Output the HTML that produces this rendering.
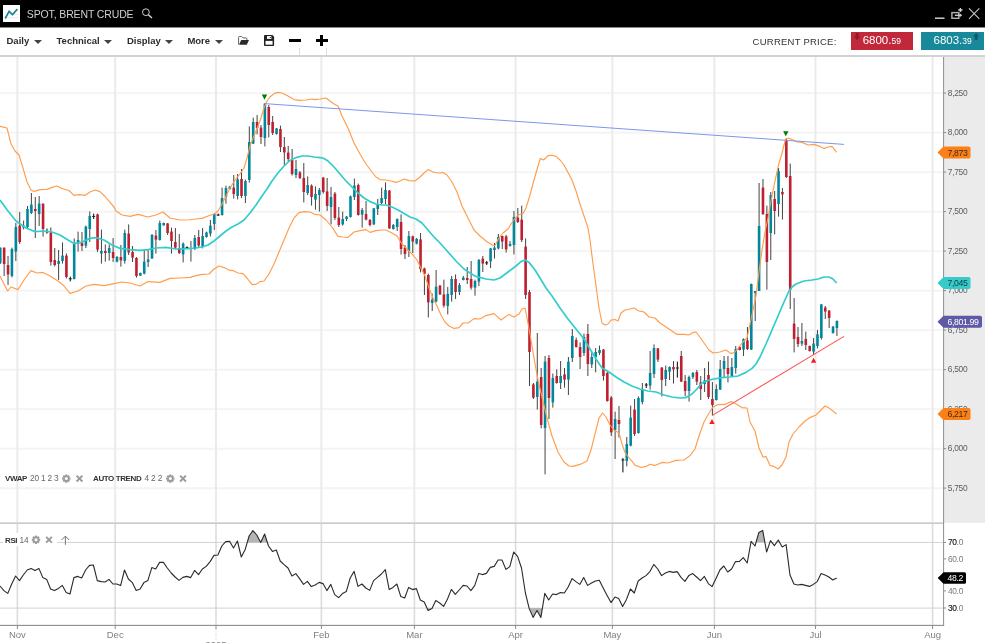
<!DOCTYPE html>
<html><head><meta charset="utf-8"><title>Spot, Brent Crude</title>
<style>
html,body{margin:0;padding:0;background:#fff;}
body{width:985px;height:643px;overflow:hidden;position:relative;font-family:"Liberation Sans",sans-serif;}
#hdr{position:absolute;left:0;top:0;width:985px;height:27px;background:#000;}
#ico{position:absolute;left:3px;top:5.2px;width:17px;height:16.7px;background:#fff;}
#ttl{position:absolute;left:26.8px;top:7.1px;font-size:10.5px;line-height:14px;color:#cfcfcf;letter-spacing:-0.13px;white-space:nowrap;}
#tb{position:absolute;left:0;top:27px;width:985px;height:28px;background:#fff;border-bottom:2px solid #d2d2d2;}
.mi{position:absolute;top:6.5px;font-size:9.5px;line-height:13px;font-weight:bold;color:#2c2c2c;white-space:nowrap;}
.car{position:absolute;top:12.8px;width:0;height:0;border-left:4.3px solid transparent;border-right:4.3px solid transparent;border-top:4.3px solid #444;}
#cp{position:absolute;left:752.6px;top:7.5px;font-size:9.5px;line-height:14px;color:#333;letter-spacing:0.24px;white-space:nowrap;}
.pb{position:absolute;top:5px;height:17.5px;color:#fff;font-size:11.5px;line-height:17.5px;white-space:nowrap;}
.pb small{font-size:8.5px;}
svg text{font-family:"Liberation Sans",sans-serif;}
.ax{font-size:8.4px;fill:#5e5e5e;letter-spacing:-0.3px;}
.bd{font-size:8.7px;letter-spacing:-0.36px;}
.lg{font-size:8.3px;fill:#666;letter-spacing:-0.2px;}
.lgb{font-size:8px;font-weight:bold;fill:#333;letter-spacing:-0.4px;}
.mo{font-size:9.5px;fill:#808080;}
</style></head><body>
<div id="hdr">
 <div id="ico"><svg width="17" height="17" viewBox="0 0 17 17"><path d="M2,9.3h13M2,12.8h13" stroke="#ddd" stroke-width="0.6"/><path d="M2.2,13.5 L6.1,6.4 L9.5,9.6 L14.4,4.1" fill="none" stroke="#0e8592" stroke-width="1.6"/></svg></div>
 <div id="ttl">SPOT, BRENT CRUDE</div>
 <svg style="position:absolute;left:141px;top:8px" width="13" height="12" viewBox="0 0 13 12"><circle cx="4.9" cy="4.2" r="3.4" fill="none" stroke="#d0d0d0" stroke-width="1"/><path d="M7.3,6.8 L11,10" stroke="#d8d8d8" stroke-width="1.4"/></svg>
 <svg style="position:absolute;left:933px;top:6px" width="50" height="16" viewBox="0 0 50 16"><path d="M2,12.2h9.5" stroke="#cdcdcd" stroke-width="1.5"/><rect x="18.9" y="6.6" width="6.9" height="5.7" fill="none" stroke="#b4b4b4" stroke-width="1.4"/><path d="M21.9,9.3h5.4" stroke="#d0d0d0" stroke-width="1.3"/><path d="M26.6,7.3l2.6,2l-2.6,2z" fill="#d0d0d0"/><path d="M27.4,1.9v4.2M25.3,4h4.2" stroke="#d0d0d0" stroke-width="1.4"/><path d="M36,2.3l10.3,10.6M46.3,2.3l-10.3,10.6" stroke="#c6c6c6" stroke-width="1.1"/></svg>
</div>
<div style="position:absolute;left:0;top:27px;width:985px;height:1px;background:#8a8a8a;z-index:3"></div>
<div id="tb">
 <span class="mi" style="left:6.5px">Daily</span><span class="car" style="left:33.7px"></span>
 <span class="mi" style="left:56.5px">Technical</span><span class="car" style="left:104.2px"></span>
 <span class="mi" style="left:127px">Display</span><span class="car" style="left:164.6px"></span>
 <span class="mi" style="left:187.4px">More</span><span class="car" style="left:214.6px"></span>
 <div style="position:absolute;left:289px;top:11.7px;width:12px;height:3.3px;background:#000"></div>
 <div style="position:absolute;left:315.8px;top:11.7px;width:12px;height:3.3px;background:#000"></div>
 <div style="position:absolute;left:320.1px;top:7.5px;width:3.2px;height:11.7px;background:#000"></div>
 <div style="position:absolute;left:299.3px;top:21px;width:1.2px;height:7px;background:#dcdcdc"></div>
 <div style="position:absolute;left:326.2px;top:21px;width:1.2px;height:7px;background:#dcdcdc"></div>
 <div id="cp">CURRENT PRICE:</div>
 <div class="pb" style="left:850.5px;width:62.7px;background:#c1283a"><svg style="position:absolute;left:3.6px;top:1px" width="6.3" height="7.35" viewBox="0 0 6 7"><path d="M1.6,0h2.8v3.4h1.6l-3,3.4l-3,-3.4h1.6z" fill="#8c1a28"/></svg><span style="position:absolute;left:12.2px">6800.<small>59</small></span></div>
 <div class="pb" style="left:921.2px;width:62.8px;background:#17899a"><span style="position:absolute;left:12.3px">6803.<small>39</small></span><svg style="position:absolute;left:52.3px;top:1px" width="6.3" height="7.35" viewBox="0 0 6 7"><path d="M1.6,6.8h2.8v-3.4h1.6l-3,-3.4l-3,3.4h1.6z" fill="#0e5a66"/></svg></div>
</div>
<svg style="position:absolute;left:0;top:0" width="985" height="643" viewBox="0 0 985 643">
<rect x="0" y="92.2" width="943" height="2" fill="#f4f4f4"/>
<rect x="0" y="131.7" width="943" height="2" fill="#f4f4f4"/>
<rect x="0" y="171.2" width="943" height="2" fill="#f4f4f4"/>
<rect x="0" y="210.7" width="943" height="2" fill="#f4f4f4"/>
<rect x="0" y="250.2" width="943" height="2" fill="#f4f4f4"/>
<rect x="0" y="289.7" width="943" height="2" fill="#f4f4f4"/>
<rect x="0" y="329.2" width="943" height="2" fill="#f4f4f4"/>
<rect x="0" y="368.7" width="943" height="2" fill="#f4f4f4"/>
<rect x="0" y="408.2" width="943" height="2" fill="#f4f4f4"/>
<rect x="0" y="447.7" width="943" height="2" fill="#f4f4f4"/>
<rect x="0" y="487.2" width="943" height="2" fill="#f4f4f4"/>
<rect x="16.35" y="57" width="2" height="465" fill="#ebebeb"/>
<rect x="16.60" y="524" width="1.6" height="101" fill="#dcdcdc"/>
<rect x="114.15" y="57" width="2" height="465" fill="#ebebeb"/>
<rect x="114.40" y="524" width="1.6" height="101" fill="#dcdcdc"/>
<rect x="214.95" y="57" width="2" height="465" fill="#ebebeb"/>
<rect x="215.20" y="524" width="1.6" height="101" fill="#dcdcdc"/>
<rect x="320.35" y="57" width="2" height="465" fill="#ebebeb"/>
<rect x="320.60" y="524" width="1.6" height="101" fill="#dcdcdc"/>
<rect x="413.35" y="57" width="2" height="465" fill="#ebebeb"/>
<rect x="413.60" y="524" width="1.6" height="101" fill="#dcdcdc"/>
<rect x="514.55" y="57" width="2" height="465" fill="#ebebeb"/>
<rect x="514.80" y="524" width="1.6" height="101" fill="#dcdcdc"/>
<rect x="611.35" y="57" width="2" height="465" fill="#ebebeb"/>
<rect x="611.60" y="524" width="1.6" height="101" fill="#dcdcdc"/>
<rect x="713.35" y="57" width="2" height="465" fill="#ebebeb"/>
<rect x="713.60" y="524" width="1.6" height="101" fill="#dcdcdc"/>
<rect x="814.45" y="57" width="2" height="465" fill="#ebebeb"/>
<rect x="814.70" y="524" width="1.6" height="101" fill="#dcdcdc"/>
<rect x="931.55" y="57" width="2" height="465" fill="#ebebeb"/>
<rect x="931.80" y="524" width="1.6" height="101" fill="#dcdcdc"/>
<rect x="944" y="57" width="41" height="465.8" fill="#ebebeb"/>
<rect x="943.05" y="57" width="1.05" height="569" fill="#929292"/>
<rect x="944" y="92.6" width="2" height="1" fill="#8c8c8c"/>
<text x="947.8" y="95.6" class="ax">8,250</text>
<rect x="944" y="132.1" width="2" height="1" fill="#8c8c8c"/>
<text x="947.8" y="135.1" class="ax">8,000</text>
<rect x="944" y="171.6" width="2" height="1" fill="#8c8c8c"/>
<text x="947.8" y="174.6" class="ax">7,750</text>
<rect x="944" y="211.1" width="2" height="1" fill="#8c8c8c"/>
<text x="947.8" y="214.1" class="ax">7,500</text>
<rect x="944" y="250.6" width="2" height="1" fill="#8c8c8c"/>
<text x="947.8" y="253.6" class="ax">7,250</text>
<rect x="944" y="290.1" width="2" height="1" fill="#8c8c8c"/>
<text x="947.8" y="293.1" class="ax">7,000</text>
<rect x="944" y="329.6" width="2" height="1" fill="#8c8c8c"/>
<text x="947.8" y="332.6" class="ax">6,750</text>
<rect x="944" y="369.1" width="2" height="1" fill="#8c8c8c"/>
<text x="947.8" y="372.1" class="ax">6,500</text>
<rect x="944" y="408.6" width="2" height="1" fill="#8c8c8c"/>
<text x="947.8" y="411.6" class="ax">6,250</text>
<rect x="944" y="448.1" width="2" height="1" fill="#8c8c8c"/>
<text x="947.8" y="451.1" class="ax">6,000</text>
<rect x="944" y="487.6" width="2" height="1" fill="#8c8c8c"/>
<text x="947.8" y="490.6" class="ax">5,750</text>
<rect x="-0.25" y="247.6" width="1" height="16.4" fill="#444444"/>
<rect x="-1.05" y="247.6" width="2.6" height="15.4" fill="#00879b"/>
<rect x="3.64" y="247.6" width="1" height="28.4" fill="#444444"/>
<rect x="2.84" y="247.6" width="2.6" height="16.4" fill="#c01f30"/>
<rect x="7.53" y="256.0" width="1" height="29.0" fill="#444444"/>
<rect x="6.73" y="265.0" width="2.6" height="9.4" fill="#c01f30"/>
<rect x="11.42" y="247.6" width="1" height="29.8" fill="#444444"/>
<rect x="10.62" y="249.0" width="2.6" height="27.0" fill="#00879b"/>
<rect x="15.32" y="223.0" width="1" height="38.0" fill="#444444"/>
<rect x="14.52" y="227.0" width="2.6" height="24.6" fill="#00879b"/>
<rect x="19.21" y="212.0" width="1" height="32.0" fill="#444444"/>
<rect x="18.41" y="225.6" width="2.6" height="16.4" fill="#c01f30"/>
<rect x="23.10" y="220.6" width="1" height="8.8" fill="#444444"/>
<rect x="22.30" y="225.6" width="2.6" height="2.0" fill="#00879b"/>
<rect x="26.99" y="206.0" width="1" height="22.0" fill="#444444"/>
<rect x="26.19" y="209.0" width="2.6" height="18.0" fill="#00879b"/>
<rect x="30.88" y="193.0" width="1" height="21.0" fill="#444444"/>
<rect x="30.08" y="204.6" width="2.6" height="8.4" fill="#00879b"/>
<rect x="34.77" y="197.0" width="1" height="41.0" fill="#444444"/>
<rect x="33.97" y="209.0" width="2.6" height="2.0" fill="#c01f30"/>
<rect x="38.66" y="196.0" width="1" height="30.0" fill="#444444"/>
<rect x="37.87" y="203.6" width="2.6" height="10.4" fill="#00879b"/>
<rect x="42.56" y="203.6" width="1" height="33.0" fill="#444444"/>
<rect x="41.76" y="203.6" width="2.6" height="25.4" fill="#c01f30"/>
<rect x="46.40" y="228.6" width="1.1" height="5.0" fill="#1c1c1c"/>
<rect x="45.45" y="231.2" width="3" height="1" fill="#1c1c1c"/>
<rect x="50.34" y="227.4" width="1" height="38.2" fill="#444444"/>
<rect x="49.54" y="232.4" width="2.6" height="29.6" fill="#c01f30"/>
<rect x="54.23" y="248.0" width="1" height="18.4" fill="#444444"/>
<rect x="53.43" y="260.0" width="2.6" height="5.0" fill="#c01f30"/>
<rect x="58.12" y="250.0" width="1" height="30.0" fill="#444444"/>
<rect x="57.32" y="261.0" width="2.6" height="3.0" fill="#00879b"/>
<rect x="62.01" y="242.4" width="1" height="21.2" fill="#444444"/>
<rect x="61.21" y="255.6" width="2.6" height="5.4" fill="#00879b"/>
<rect x="65.91" y="253.4" width="1" height="25.0" fill="#444444"/>
<rect x="65.11" y="255.6" width="2.6" height="21.4" fill="#c01f30"/>
<rect x="69.75" y="276.6" width="1.1" height="4.8" fill="#1c1c1c"/>
<rect x="68.80" y="278.3" width="3" height="1" fill="#1c1c1c"/>
<rect x="73.69" y="238.4" width="1" height="41.0" fill="#444444"/>
<rect x="72.89" y="244.0" width="2.6" height="35.0" fill="#00879b"/>
<rect x="77.58" y="231.6" width="1" height="20.0" fill="#444444"/>
<rect x="76.78" y="240.0" width="2.6" height="3.6" fill="#00879b"/>
<rect x="81.47" y="232.0" width="1" height="19.0" fill="#444444"/>
<rect x="80.67" y="242.6" width="2.6" height="3.4" fill="#c01f30"/>
<rect x="85.36" y="225.6" width="1" height="22.4" fill="#444444"/>
<rect x="84.56" y="226.6" width="2.6" height="19.0" fill="#00879b"/>
<rect x="89.25" y="211.4" width="1" height="30.6" fill="#444444"/>
<rect x="88.45" y="216.0" width="2.6" height="13.0" fill="#00879b"/>
<rect x="93.10" y="213.6" width="1.1" height="5.4" fill="#1c1c1c"/>
<rect x="92.15" y="215.9" width="3" height="1" fill="#1c1c1c"/>
<rect x="97.04" y="213.6" width="1" height="38.4" fill="#444444"/>
<rect x="96.24" y="214.4" width="2.6" height="35.2" fill="#c01f30"/>
<rect x="100.93" y="229.6" width="1" height="34.0" fill="#444444"/>
<rect x="100.13" y="251.0" width="2.6" height="2.6" fill="#00879b"/>
<rect x="104.82" y="244.4" width="1" height="17.2" fill="#444444"/>
<rect x="104.02" y="251.0" width="2.6" height="2.0" fill="#c01f30"/>
<rect x="108.71" y="244.4" width="1" height="16.2" fill="#444444"/>
<rect x="107.91" y="248.0" width="2.6" height="5.0" fill="#00879b"/>
<rect x="112.60" y="238.0" width="1" height="24.0" fill="#444444"/>
<rect x="111.80" y="252.0" width="2.6" height="6.0" fill="#c01f30"/>
<rect x="116.50" y="256.0" width="1" height="6.4" fill="#444444"/>
<rect x="115.70" y="257.0" width="2.6" height="4.6" fill="#00879b"/>
<rect x="120.39" y="245.0" width="1" height="21.6" fill="#444444"/>
<rect x="119.59" y="257.0" width="2.6" height="3.4" fill="#c01f30"/>
<rect x="124.28" y="229.6" width="1" height="34.0" fill="#444444"/>
<rect x="123.48" y="233.0" width="2.6" height="28.0" fill="#00879b"/>
<rect x="128.17" y="224.4" width="1" height="30.6" fill="#444444"/>
<rect x="127.37" y="233.6" width="2.6" height="18.8" fill="#c01f30"/>
<rect x="132.06" y="246.0" width="1" height="16.0" fill="#444444"/>
<rect x="131.26" y="252.0" width="2.6" height="5.6" fill="#c01f30"/>
<rect x="135.95" y="257.0" width="1" height="20.6" fill="#444444"/>
<rect x="135.15" y="258.0" width="2.6" height="18.0" fill="#c01f30"/>
<rect x="139.84" y="272.6" width="1" height="3.4" fill="#444444"/>
<rect x="139.04" y="273.0" width="2.6" height="2.6" fill="#00879b"/>
<rect x="143.74" y="250.0" width="1" height="24.4" fill="#444444"/>
<rect x="142.94" y="261.6" width="2.6" height="12.0" fill="#00879b"/>
<rect x="147.63" y="249.0" width="1" height="18.0" fill="#444444"/>
<rect x="146.83" y="259.4" width="2.6" height="2.6" fill="#00879b"/>
<rect x="151.52" y="234.0" width="1" height="25.0" fill="#444444"/>
<rect x="150.72" y="235.0" width="2.6" height="23.4" fill="#00879b"/>
<rect x="155.41" y="230.0" width="1" height="23.6" fill="#444444"/>
<rect x="154.61" y="235.6" width="2.6" height="4.0" fill="#c01f30"/>
<rect x="159.30" y="220.6" width="1" height="20.0" fill="#444444"/>
<rect x="158.50" y="223.0" width="2.6" height="17.0" fill="#00879b"/>
<rect x="163.19" y="222.6" width="1" height="3.0" fill="#444444"/>
<rect x="162.39" y="223.0" width="2.6" height="2.4" fill="#00879b"/>
<rect x="167.08" y="223.0" width="1" height="12.0" fill="#444444"/>
<rect x="166.28" y="223.4" width="2.6" height="9.6" fill="#c01f30"/>
<rect x="170.98" y="227.6" width="1" height="26.0" fill="#444444"/>
<rect x="170.18" y="231.6" width="2.6" height="9.4" fill="#c01f30"/>
<rect x="174.87" y="228.0" width="1" height="21.0" fill="#444444"/>
<rect x="174.07" y="242.0" width="2.6" height="5.6" fill="#c01f30"/>
<rect x="178.76" y="234.0" width="1" height="20.0" fill="#444444"/>
<rect x="177.96" y="248.0" width="2.6" height="5.0" fill="#c01f30"/>
<rect x="182.65" y="242.4" width="1" height="20.0" fill="#444444"/>
<rect x="181.85" y="243.6" width="2.6" height="10.8" fill="#00879b"/>
<rect x="186.49" y="246.4" width="1.1" height="2.6" fill="#1c1c1c"/>
<rect x="185.54" y="247.2" width="3" height="1" fill="#1c1c1c"/>
<rect x="190.43" y="241.0" width="1" height="20.6" fill="#444444"/>
<rect x="189.63" y="248.0" width="2.6" height="1.0" fill="#00879b"/>
<rect x="194.33" y="235.0" width="1" height="15.0" fill="#444444"/>
<rect x="193.53" y="238.0" width="2.6" height="11.0" fill="#00879b"/>
<rect x="198.22" y="230.0" width="1" height="17.0" fill="#444444"/>
<rect x="197.42" y="237.0" width="2.6" height="8.6" fill="#c01f30"/>
<rect x="202.11" y="228.0" width="1" height="20.4" fill="#444444"/>
<rect x="201.31" y="236.0" width="2.6" height="11.0" fill="#00879b"/>
<rect x="206.00" y="231.6" width="1" height="6.0" fill="#444444"/>
<rect x="205.20" y="232.4" width="2.6" height="4.6" fill="#00879b"/>
<rect x="209.89" y="220.0" width="1" height="16.4" fill="#444444"/>
<rect x="209.09" y="225.6" width="2.6" height="8.0" fill="#00879b"/>
<rect x="213.78" y="213.6" width="1" height="16.4" fill="#444444"/>
<rect x="212.98" y="214.0" width="2.6" height="10.0" fill="#00879b"/>
<rect x="217.62" y="213.6" width="1.1" height="2.4" fill="#1c1c1c"/>
<rect x="216.67" y="214.5" width="3" height="1" fill="#1c1c1c"/>
<rect x="221.57" y="187.6" width="1" height="28.0" fill="#444444"/>
<rect x="220.77" y="198.0" width="2.6" height="17.0" fill="#00879b"/>
<rect x="225.46" y="185.6" width="1" height="18.0" fill="#444444"/>
<rect x="224.66" y="188.0" width="2.6" height="9.0" fill="#00879b"/>
<rect x="229.35" y="186.0" width="1" height="3.6" fill="#444444"/>
<rect x="228.55" y="186.6" width="2.6" height="2.4" fill="#00879b"/>
<rect x="233.24" y="175.0" width="1" height="23.6" fill="#444444"/>
<rect x="232.44" y="187.6" width="2.6" height="6.4" fill="#c01f30"/>
<rect x="237.13" y="174.0" width="1" height="25.4" fill="#444444"/>
<rect x="236.33" y="179.4" width="2.6" height="16.6" fill="#00879b"/>
<rect x="241.02" y="169.0" width="1" height="29.0" fill="#444444"/>
<rect x="240.22" y="179.0" width="2.6" height="17.0" fill="#c01f30"/>
<rect x="244.91" y="179.6" width="1" height="23.4" fill="#444444"/>
<rect x="244.11" y="181.0" width="2.6" height="15.0" fill="#00879b"/>
<rect x="248.81" y="126.4" width="1" height="56.2" fill="#444444"/>
<rect x="248.01" y="142.0" width="2.6" height="38.0" fill="#00879b"/>
<rect x="252.70" y="117.6" width="1" height="26.4" fill="#444444"/>
<rect x="251.90" y="122.0" width="2.6" height="21.6" fill="#00879b"/>
<rect x="256.59" y="115.0" width="1" height="19.4" fill="#444444"/>
<rect x="255.79" y="122.0" width="2.6" height="6.0" fill="#c01f30"/>
<rect x="260.48" y="125.0" width="1" height="19.0" fill="#444444"/>
<rect x="259.68" y="127.6" width="2.6" height="9.4" fill="#c01f30"/>
<rect x="264.37" y="103.0" width="1" height="43.4" fill="#444444"/>
<rect x="263.57" y="103.6" width="2.6" height="34.4" fill="#00879b"/>
<rect x="268.26" y="105.0" width="1" height="32.4" fill="#444444"/>
<rect x="267.46" y="107.0" width="2.6" height="18.0" fill="#c01f30"/>
<rect x="272.16" y="116.0" width="1" height="19.0" fill="#444444"/>
<rect x="271.36" y="122.0" width="2.6" height="11.0" fill="#c01f30"/>
<rect x="276.05" y="128.0" width="1" height="6.6" fill="#444444"/>
<rect x="275.25" y="128.4" width="2.6" height="5.6" fill="#00879b"/>
<rect x="279.94" y="125.6" width="1" height="26.4" fill="#444444"/>
<rect x="279.14" y="129.0" width="2.6" height="18.0" fill="#c01f30"/>
<rect x="283.83" y="137.0" width="1" height="28.0" fill="#444444"/>
<rect x="283.03" y="147.0" width="2.6" height="5.4" fill="#c01f30"/>
<rect x="287.72" y="146.0" width="1" height="15.6" fill="#444444"/>
<rect x="286.92" y="152.6" width="2.6" height="6.4" fill="#c01f30"/>
<rect x="291.61" y="149.0" width="1" height="26.6" fill="#444444"/>
<rect x="290.81" y="160.0" width="2.6" height="14.0" fill="#c01f30"/>
<rect x="295.50" y="160.0" width="1" height="18.0" fill="#444444"/>
<rect x="294.70" y="169.0" width="2.6" height="6.0" fill="#00879b"/>
<rect x="299.40" y="171.0" width="1" height="8.0" fill="#444444"/>
<rect x="298.60" y="172.4" width="2.6" height="5.6" fill="#c01f30"/>
<rect x="303.29" y="163.0" width="1" height="39.4" fill="#444444"/>
<rect x="302.49" y="178.0" width="2.6" height="14.0" fill="#c01f30"/>
<rect x="307.18" y="176.4" width="1" height="18.6" fill="#444444"/>
<rect x="306.38" y="185.0" width="2.6" height="8.0" fill="#00879b"/>
<rect x="311.07" y="184.4" width="1" height="21.2" fill="#444444"/>
<rect x="310.27" y="185.6" width="2.6" height="11.4" fill="#c01f30"/>
<rect x="314.96" y="186.4" width="1" height="23.2" fill="#444444"/>
<rect x="314.16" y="194.0" width="2.6" height="5.6" fill="#00879b"/>
<rect x="318.85" y="188.0" width="1" height="23.6" fill="#444444"/>
<rect x="318.05" y="190.0" width="2.6" height="5.0" fill="#00879b"/>
<rect x="322.74" y="177.0" width="1" height="16.6" fill="#444444"/>
<rect x="321.94" y="177.6" width="2.6" height="14.4" fill="#c01f30"/>
<rect x="326.64" y="178.0" width="1" height="33.0" fill="#444444"/>
<rect x="325.84" y="191.4" width="2.6" height="14.6" fill="#c01f30"/>
<rect x="330.53" y="187.0" width="1" height="37.4" fill="#444444"/>
<rect x="329.73" y="197.0" width="2.6" height="10.0" fill="#00879b"/>
<rect x="334.42" y="192.0" width="1" height="28.0" fill="#444444"/>
<rect x="333.62" y="193.6" width="2.6" height="24.4" fill="#c01f30"/>
<rect x="338.31" y="207.0" width="1" height="20.0" fill="#444444"/>
<rect x="337.51" y="217.6" width="2.6" height="7.4" fill="#c01f30"/>
<rect x="342.20" y="211.6" width="1" height="14.0" fill="#444444"/>
<rect x="341.40" y="219.0" width="2.6" height="5.4" fill="#00879b"/>
<rect x="346.09" y="216.0" width="1" height="5.0" fill="#444444"/>
<rect x="345.29" y="216.6" width="2.6" height="2.4" fill="#00879b"/>
<rect x="349.99" y="195.6" width="1" height="22.0" fill="#444444"/>
<rect x="349.19" y="196.4" width="2.6" height="20.6" fill="#00879b"/>
<rect x="353.88" y="178.6" width="1" height="21.4" fill="#444444"/>
<rect x="353.08" y="185.6" width="2.6" height="11.4" fill="#00879b"/>
<rect x="357.77" y="183.6" width="1" height="32.0" fill="#444444"/>
<rect x="356.97" y="185.0" width="2.6" height="30.0" fill="#c01f30"/>
<rect x="361.66" y="208.0" width="1" height="19.6" fill="#444444"/>
<rect x="360.86" y="210.0" width="2.6" height="4.6" fill="#00879b"/>
<rect x="365.55" y="201.0" width="1" height="19.4" fill="#444444"/>
<rect x="364.75" y="214.0" width="2.6" height="5.6" fill="#c01f30"/>
<rect x="369.44" y="219.0" width="1" height="7.4" fill="#444444"/>
<rect x="368.64" y="220.0" width="2.6" height="5.0" fill="#c01f30"/>
<rect x="373.33" y="208.0" width="1" height="17.0" fill="#444444"/>
<rect x="372.53" y="208.4" width="2.6" height="16.0" fill="#00879b"/>
<rect x="377.23" y="199.0" width="1" height="16.0" fill="#444444"/>
<rect x="376.43" y="204.0" width="2.6" height="5.0" fill="#00879b"/>
<rect x="381.12" y="187.6" width="1" height="16.8" fill="#444444"/>
<rect x="380.32" y="198.0" width="2.6" height="5.0" fill="#00879b"/>
<rect x="385.01" y="182.4" width="1" height="21.6" fill="#444444"/>
<rect x="384.21" y="190.0" width="2.6" height="9.0" fill="#00879b"/>
<rect x="388.90" y="190.0" width="1" height="39.0" fill="#444444"/>
<rect x="388.10" y="190.6" width="2.6" height="37.8" fill="#c01f30"/>
<rect x="392.79" y="224.0" width="1" height="5.6" fill="#444444"/>
<rect x="391.99" y="225.0" width="2.6" height="4.0" fill="#00879b"/>
<rect x="396.68" y="218.4" width="1" height="12.6" fill="#444444"/>
<rect x="395.88" y="219.0" width="2.6" height="8.0" fill="#00879b"/>
<rect x="400.57" y="214.4" width="1" height="40.2" fill="#444444"/>
<rect x="399.77" y="222.0" width="2.6" height="27.0" fill="#c01f30"/>
<rect x="404.47" y="245.0" width="1" height="14.0" fill="#444444"/>
<rect x="403.67" y="247.6" width="2.6" height="6.4" fill="#c01f30"/>
<rect x="408.36" y="231.0" width="1" height="26.0" fill="#444444"/>
<rect x="407.56" y="236.0" width="2.6" height="15.0" fill="#00879b"/>
<rect x="412.25" y="235.6" width="1" height="17.4" fill="#444444"/>
<rect x="411.45" y="236.4" width="2.6" height="5.2" fill="#c01f30"/>
<rect x="416.14" y="238.0" width="1" height="6.4" fill="#444444"/>
<rect x="415.34" y="239.0" width="2.6" height="4.6" fill="#00879b"/>
<rect x="420.03" y="233.0" width="1" height="39.4" fill="#444444"/>
<rect x="419.23" y="239.4" width="2.6" height="29.6" fill="#c01f30"/>
<rect x="423.92" y="267.6" width="1" height="27.4" fill="#444444"/>
<rect x="423.12" y="268.4" width="2.6" height="5.6" fill="#c01f30"/>
<rect x="427.81" y="273.6" width="1" height="43.8" fill="#444444"/>
<rect x="427.01" y="275.0" width="2.6" height="27.4" fill="#c01f30"/>
<rect x="431.71" y="293.6" width="1" height="17.4" fill="#444444"/>
<rect x="430.91" y="299.6" width="2.6" height="3.4" fill="#00879b"/>
<rect x="435.60" y="270.0" width="1" height="32.4" fill="#444444"/>
<rect x="434.80" y="286.6" width="2.6" height="15.0" fill="#00879b"/>
<rect x="439.49" y="285.0" width="1" height="10.0" fill="#444444"/>
<rect x="438.69" y="285.6" width="2.6" height="8.8" fill="#c01f30"/>
<rect x="443.38" y="279.6" width="1" height="28.0" fill="#444444"/>
<rect x="442.58" y="294.4" width="2.6" height="11.2" fill="#c01f30"/>
<rect x="447.27" y="287.0" width="1" height="27.4" fill="#444444"/>
<rect x="446.47" y="294.0" width="2.6" height="12.0" fill="#00879b"/>
<rect x="451.16" y="276.0" width="1" height="25.6" fill="#444444"/>
<rect x="450.36" y="279.0" width="2.6" height="16.0" fill="#00879b"/>
<rect x="455.06" y="274.4" width="1" height="24.6" fill="#444444"/>
<rect x="454.26" y="279.0" width="2.6" height="13.0" fill="#c01f30"/>
<rect x="458.95" y="283.0" width="1" height="12.0" fill="#444444"/>
<rect x="458.15" y="285.0" width="2.6" height="7.0" fill="#00879b"/>
<rect x="462.84" y="276.0" width="1" height="4.4" fill="#444444"/>
<rect x="462.04" y="277.6" width="2.6" height="2.4" fill="#00879b"/>
<rect x="466.73" y="267.0" width="1" height="17.0" fill="#444444"/>
<rect x="465.93" y="278.0" width="2.6" height="2.0" fill="#c01f30"/>
<rect x="470.62" y="261.0" width="1" height="28.6" fill="#444444"/>
<rect x="469.82" y="279.0" width="2.6" height="8.6" fill="#c01f30"/>
<rect x="474.51" y="279.6" width="1" height="16.0" fill="#444444"/>
<rect x="473.71" y="281.0" width="2.6" height="6.6" fill="#00879b"/>
<rect x="478.40" y="259.0" width="1" height="27.0" fill="#444444"/>
<rect x="477.60" y="260.0" width="2.6" height="21.6" fill="#00879b"/>
<rect x="482.30" y="256.0" width="1" height="16.0" fill="#444444"/>
<rect x="481.50" y="258.6" width="2.6" height="5.0" fill="#c01f30"/>
<rect x="486.14" y="261.0" width="1.1" height="4.0" fill="#1c1c1c"/>
<rect x="485.19" y="262.4" width="3" height="1" fill="#1c1c1c"/>
<rect x="490.08" y="248.0" width="1" height="20.0" fill="#444444"/>
<rect x="489.28" y="248.4" width="2.6" height="13.0" fill="#00879b"/>
<rect x="493.97" y="243.0" width="1" height="15.6" fill="#444444"/>
<rect x="493.17" y="247.6" width="2.6" height="2.4" fill="#00879b"/>
<rect x="497.86" y="234.0" width="1" height="15.4" fill="#444444"/>
<rect x="497.06" y="237.0" width="2.6" height="11.4" fill="#00879b"/>
<rect x="501.75" y="235.6" width="1" height="13.4" fill="#444444"/>
<rect x="500.95" y="236.0" width="2.6" height="5.6" fill="#c01f30"/>
<rect x="505.65" y="235.0" width="1" height="17.6" fill="#444444"/>
<rect x="504.85" y="236.4" width="2.6" height="13.0" fill="#c01f30"/>
<rect x="509.54" y="241.0" width="1" height="5.6" fill="#444444"/>
<rect x="508.74" y="244.0" width="2.6" height="2.0" fill="#00879b"/>
<rect x="513.43" y="211.0" width="1" height="43.4" fill="#444444"/>
<rect x="512.63" y="217.0" width="2.6" height="28.0" fill="#00879b"/>
<rect x="517.32" y="208.0" width="1" height="15.0" fill="#444444"/>
<rect x="516.52" y="217.6" width="2.6" height="4.4" fill="#c01f30"/>
<rect x="521.21" y="205.6" width="1" height="36.4" fill="#444444"/>
<rect x="520.41" y="219.6" width="2.6" height="20.4" fill="#c01f30"/>
<rect x="525.10" y="238.4" width="1" height="60.6" fill="#444444"/>
<rect x="524.30" y="246.6" width="2.6" height="48.4" fill="#c01f30"/>
<rect x="528.99" y="290.0" width="1" height="96.0" fill="#444444"/>
<rect x="528.19" y="292.0" width="2.6" height="60.0" fill="#c01f30"/>
<rect x="532.89" y="383.0" width="1" height="16.0" fill="#444444"/>
<rect x="532.09" y="384.4" width="2.6" height="13.2" fill="#c01f30"/>
<rect x="536.78" y="333.0" width="1" height="76.6" fill="#444444"/>
<rect x="535.98" y="381.6" width="2.6" height="15.4" fill="#00879b"/>
<rect x="540.67" y="368.0" width="1" height="60.4" fill="#444444"/>
<rect x="539.87" y="377.0" width="2.6" height="48.0" fill="#c01f30"/>
<rect x="544.56" y="356.0" width="1" height="118.4" fill="#444444"/>
<rect x="543.76" y="361.6" width="2.6" height="66.4" fill="#00879b"/>
<rect x="548.45" y="355.0" width="1" height="64.0" fill="#444444"/>
<rect x="547.65" y="358.0" width="2.6" height="40.0" fill="#c01f30"/>
<rect x="552.34" y="373.6" width="1" height="34.0" fill="#444444"/>
<rect x="551.54" y="378.0" width="2.6" height="24.4" fill="#00879b"/>
<rect x="556.23" y="369.4" width="1" height="14.2" fill="#444444"/>
<rect x="555.43" y="376.0" width="2.6" height="7.0" fill="#c01f30"/>
<rect x="560.13" y="361.0" width="1" height="28.0" fill="#444444"/>
<rect x="559.33" y="376.0" width="2.6" height="7.0" fill="#00879b"/>
<rect x="564.02" y="368.0" width="1" height="19.6" fill="#444444"/>
<rect x="563.22" y="374.4" width="2.6" height="5.2" fill="#c01f30"/>
<rect x="567.91" y="357.0" width="1" height="38.0" fill="#444444"/>
<rect x="567.11" y="361.6" width="2.6" height="18.0" fill="#00879b"/>
<rect x="571.80" y="329.0" width="1" height="33.0" fill="#444444"/>
<rect x="571.00" y="336.0" width="2.6" height="22.0" fill="#00879b"/>
<rect x="575.69" y="337.6" width="1" height="10.0" fill="#444444"/>
<rect x="574.89" y="340.0" width="2.6" height="7.0" fill="#c01f30"/>
<rect x="579.58" y="342.4" width="1" height="26.6" fill="#444444"/>
<rect x="578.78" y="347.0" width="2.6" height="10.0" fill="#c01f30"/>
<rect x="583.48" y="333.6" width="1" height="22.4" fill="#444444"/>
<rect x="582.68" y="337.0" width="2.6" height="16.0" fill="#00879b"/>
<rect x="587.37" y="324.0" width="1" height="52.0" fill="#444444"/>
<rect x="586.57" y="334.0" width="2.6" height="30.0" fill="#c01f30"/>
<rect x="591.26" y="352.0" width="1" height="16.0" fill="#444444"/>
<rect x="590.46" y="357.0" width="2.6" height="7.4" fill="#00879b"/>
<rect x="595.15" y="348.0" width="1" height="24.4" fill="#444444"/>
<rect x="594.35" y="352.0" width="2.6" height="5.0" fill="#00879b"/>
<rect x="599.04" y="345.6" width="1" height="9.4" fill="#444444"/>
<rect x="598.24" y="350.0" width="2.6" height="3.0" fill="#00879b"/>
<rect x="602.93" y="349.0" width="1" height="31.6" fill="#444444"/>
<rect x="602.13" y="349.6" width="2.6" height="26.4" fill="#c01f30"/>
<rect x="606.82" y="372.0" width="1" height="29.6" fill="#444444"/>
<rect x="606.02" y="373.0" width="2.6" height="28.0" fill="#c01f30"/>
<rect x="610.72" y="396.0" width="1" height="40.0" fill="#444444"/>
<rect x="609.92" y="397.6" width="2.6" height="34.8" fill="#c01f30"/>
<rect x="614.61" y="411.6" width="1" height="47.4" fill="#444444"/>
<rect x="613.81" y="419.0" width="2.6" height="11.0" fill="#00879b"/>
<rect x="618.50" y="406.0" width="1" height="31.6" fill="#444444"/>
<rect x="617.70" y="420.0" width="2.6" height="4.0" fill="#c01f30"/>
<rect x="622.34" y="458.0" width="1.1" height="14.4" fill="#1c1c1c"/>
<rect x="621.39" y="459.5" width="3" height="1" fill="#1c1c1c"/>
<rect x="626.28" y="437.0" width="1" height="29.4" fill="#444444"/>
<rect x="625.48" y="444.0" width="2.6" height="17.0" fill="#00879b"/>
<rect x="630.17" y="405.6" width="1" height="40.8" fill="#444444"/>
<rect x="629.37" y="417.6" width="2.6" height="28.0" fill="#00879b"/>
<rect x="634.06" y="399.0" width="1" height="37.0" fill="#444444"/>
<rect x="633.26" y="409.6" width="2.6" height="24.4" fill="#c01f30"/>
<rect x="637.96" y="396.4" width="1" height="37.2" fill="#444444"/>
<rect x="637.16" y="398.0" width="2.6" height="35.0" fill="#00879b"/>
<rect x="641.85" y="383.0" width="1" height="21.4" fill="#444444"/>
<rect x="641.05" y="389.0" width="2.6" height="13.0" fill="#00879b"/>
<rect x="645.69" y="383.0" width="1.1" height="5.0" fill="#1c1c1c"/>
<rect x="644.74" y="384.5" width="3" height="1" fill="#1c1c1c"/>
<rect x="649.63" y="351.0" width="1" height="38.6" fill="#444444"/>
<rect x="648.83" y="373.0" width="2.6" height="12.6" fill="#00879b"/>
<rect x="653.52" y="344.4" width="1" height="33.6" fill="#444444"/>
<rect x="652.72" y="348.0" width="2.6" height="26.0" fill="#00879b"/>
<rect x="657.41" y="348.0" width="1" height="14.0" fill="#444444"/>
<rect x="656.61" y="348.4" width="2.6" height="11.2" fill="#c01f30"/>
<rect x="661.31" y="367.0" width="1" height="29.4" fill="#444444"/>
<rect x="660.51" y="367.6" width="2.6" height="12.4" fill="#c01f30"/>
<rect x="665.20" y="365.6" width="1" height="20.4" fill="#444444"/>
<rect x="664.40" y="370.0" width="2.6" height="9.0" fill="#00879b"/>
<rect x="669.09" y="366.4" width="1" height="13.6" fill="#444444"/>
<rect x="668.29" y="367.0" width="2.6" height="4.6" fill="#00879b"/>
<rect x="672.98" y="361.0" width="1" height="22.6" fill="#444444"/>
<rect x="672.18" y="367.0" width="2.6" height="2.4" fill="#c01f30"/>
<rect x="676.82" y="361.6" width="1.1" height="16.0" fill="#1c1c1c"/>
<rect x="675.87" y="367.5" width="3" height="1" fill="#1c1c1c"/>
<rect x="680.76" y="351.0" width="1" height="31.0" fill="#444444"/>
<rect x="679.96" y="356.0" width="2.6" height="25.6" fill="#c01f30"/>
<rect x="684.65" y="375.0" width="1" height="21.4" fill="#444444"/>
<rect x="683.85" y="381.0" width="2.6" height="10.0" fill="#c01f30"/>
<rect x="688.55" y="375.6" width="1" height="26.0" fill="#444444"/>
<rect x="687.75" y="377.0" width="2.6" height="14.0" fill="#00879b"/>
<rect x="692.44" y="372.0" width="1" height="7.0" fill="#444444"/>
<rect x="691.64" y="373.0" width="2.6" height="4.0" fill="#00879b"/>
<rect x="696.33" y="370.0" width="1" height="15.0" fill="#444444"/>
<rect x="695.53" y="372.0" width="2.6" height="9.6" fill="#c01f30"/>
<rect x="700.22" y="376.0" width="1" height="24.0" fill="#444444"/>
<rect x="699.42" y="382.4" width="2.6" height="6.6" fill="#c01f30"/>
<rect x="704.11" y="368.0" width="1" height="24.0" fill="#444444"/>
<rect x="703.31" y="380.4" width="2.6" height="3.6" fill="#00879b"/>
<rect x="708.00" y="361.6" width="1" height="37.4" fill="#444444"/>
<rect x="707.20" y="375.0" width="2.6" height="22.0" fill="#c01f30"/>
<rect x="711.89" y="382.0" width="1" height="33.0" fill="#444444"/>
<rect x="711.09" y="399.0" width="2.6" height="6.0" fill="#c01f30"/>
<rect x="715.79" y="384.4" width="1" height="16.0" fill="#444444"/>
<rect x="714.99" y="389.0" width="2.6" height="11.0" fill="#00879b"/>
<rect x="719.68" y="360.0" width="1" height="30.0" fill="#444444"/>
<rect x="718.88" y="369.0" width="2.6" height="20.6" fill="#00879b"/>
<rect x="723.57" y="356.0" width="1" height="22.0" fill="#444444"/>
<rect x="722.77" y="361.0" width="2.6" height="8.0" fill="#00879b"/>
<rect x="727.46" y="356.0" width="1" height="26.4" fill="#444444"/>
<rect x="726.66" y="368.0" width="2.6" height="6.0" fill="#c01f30"/>
<rect x="731.35" y="358.0" width="1" height="19.0" fill="#444444"/>
<rect x="730.55" y="367.0" width="2.6" height="9.0" fill="#00879b"/>
<rect x="735.24" y="346.0" width="1" height="27.6" fill="#444444"/>
<rect x="734.44" y="349.0" width="2.6" height="19.0" fill="#00879b"/>
<rect x="739.13" y="346.0" width="1" height="4.4" fill="#444444"/>
<rect x="738.34" y="347.0" width="2.6" height="3.0" fill="#c01f30"/>
<rect x="743.03" y="338.4" width="1" height="17.6" fill="#444444"/>
<rect x="742.23" y="339.0" width="2.6" height="10.6" fill="#00879b"/>
<rect x="746.92" y="327.0" width="1" height="23.0" fill="#444444"/>
<rect x="746.12" y="340.4" width="2.6" height="8.6" fill="#c01f30"/>
<rect x="750.81" y="283.6" width="1" height="66.4" fill="#444444"/>
<rect x="750.01" y="284.0" width="2.6" height="65.6" fill="#00879b"/>
<rect x="754.70" y="291.0" width="1" height="30.0" fill="#444444"/>
<rect x="753.90" y="291.0" width="2.6" height="2.0" fill="#00879b"/>
<rect x="758.59" y="183.0" width="1" height="108.0" fill="#444444"/>
<rect x="757.79" y="226.0" width="2.6" height="65.0" fill="#00879b"/>
<rect x="762.48" y="179.0" width="1" height="36.0" fill="#444444"/>
<rect x="761.68" y="187.6" width="2.6" height="26.4" fill="#c01f30"/>
<rect x="766.38" y="205.6" width="1" height="84.0" fill="#444444"/>
<rect x="765.58" y="214.0" width="2.6" height="48.0" fill="#c01f30"/>
<rect x="770.27" y="192.0" width="1" height="68.0" fill="#444444"/>
<rect x="769.47" y="195.0" width="2.6" height="38.0" fill="#00879b"/>
<rect x="774.16" y="191.0" width="1" height="43.4" fill="#444444"/>
<rect x="773.36" y="199.0" width="2.6" height="12.0" fill="#c01f30"/>
<rect x="778.05" y="168.0" width="1" height="48.6" fill="#444444"/>
<rect x="777.25" y="171.0" width="2.6" height="33.0" fill="#00879b"/>
<rect x="781.94" y="188.0" width="1" height="31.6" fill="#444444"/>
<rect x="781.14" y="192.0" width="2.6" height="2.4" fill="#c01f30"/>
<rect x="785.83" y="139.0" width="1" height="39.0" fill="#444444"/>
<rect x="785.03" y="140.0" width="2.6" height="37.0" fill="#c01f30"/>
<rect x="789.72" y="163.6" width="1" height="145.4" fill="#444444"/>
<rect x="788.92" y="176.0" width="2.6" height="114.0" fill="#c01f30"/>
<rect x="793.62" y="298.0" width="1" height="54.4" fill="#444444"/>
<rect x="792.82" y="323.6" width="2.6" height="15.4" fill="#c01f30"/>
<rect x="797.51" y="327.0" width="1" height="20.0" fill="#444444"/>
<rect x="796.71" y="337.0" width="2.6" height="7.0" fill="#c01f30"/>
<rect x="801.40" y="323.0" width="1" height="23.0" fill="#444444"/>
<rect x="800.60" y="341.0" width="2.6" height="2.6" fill="#00879b"/>
<rect x="805.29" y="331.6" width="1" height="18.4" fill="#444444"/>
<rect x="804.49" y="339.0" width="2.6" height="6.0" fill="#c01f30"/>
<rect x="809.18" y="345.6" width="1" height="6.0" fill="#444444"/>
<rect x="808.38" y="346.0" width="2.6" height="5.0" fill="#c01f30"/>
<rect x="813.07" y="338.0" width="1" height="17.0" fill="#444444"/>
<rect x="812.27" y="343.6" width="2.6" height="8.0" fill="#00879b"/>
<rect x="816.97" y="330.0" width="1" height="18.4" fill="#444444"/>
<rect x="816.17" y="334.4" width="2.6" height="11.6" fill="#00879b"/>
<rect x="820.86" y="304.0" width="1" height="35.6" fill="#444444"/>
<rect x="820.06" y="304.4" width="2.6" height="33.6" fill="#00879b"/>
<rect x="824.75" y="306.0" width="1" height="13.0" fill="#444444"/>
<rect x="823.95" y="307.6" width="2.6" height="4.0" fill="#c01f30"/>
<rect x="828.64" y="310.0" width="1" height="18.0" fill="#444444"/>
<rect x="827.84" y="310.6" width="2.6" height="7.4" fill="#c01f30"/>
<rect x="832.53" y="326.0" width="1" height="7.6" fill="#444444"/>
<rect x="831.73" y="326.6" width="2.6" height="6.4" fill="#00879b"/>
<rect x="836.42" y="320.4" width="1" height="15.6" fill="#444444"/>
<rect x="835.62" y="321.0" width="2.6" height="7.0" fill="#00879b"/>
<polyline points="0.0,126.4 7.0,128.0 11.0,144.0 15.0,151.0 19.0,155.0 23.0,168.0 27.0,182.0 31.0,190.0 34.0,191.4 40.0,189.6 47.0,189.4 52.0,187.4 57.0,186.0 62.0,188.5 69.0,190.5 74.0,195.4 79.0,194.6 85.0,195.4 90.0,192.0 95.0,190.0 100.0,191.6 105.0,196.5 110.0,202.4 114.0,207.0 116.0,211.0 122.0,215.0 130.0,216.4 138.0,214.4 148.0,217.0 156.0,215.0 163.0,212.0 170.0,218.0 180.0,220.0 190.0,219.8 196.0,219.0 202.0,218.4 208.0,216.0 214.0,214.0 218.0,211.0 222.0,204.0 226.0,196.0 230.0,188.0 235.0,180.0 240.0,174.0 244.0,168.0 247.0,158.0 250.0,146.0 254.0,136.0 258.0,126.0 261.0,118.0 264.0,108.0 267.0,101.0 270.0,97.0 274.0,93.6 278.0,92.4 282.0,93.0 288.0,96.0 294.0,99.6 300.0,100.4 306.0,100.0 312.0,99.0 315.0,99.6 320.0,99.0 326.0,98.0 330.0,101.0 334.0,104.0 338.0,106.0 342.0,116.0 348.0,128.0 354.0,143.0 360.0,154.0 366.0,164.0 372.0,172.0 376.0,177.0 380.0,179.6 386.0,180.0 391.0,181.0 396.0,182.4 400.0,181.0 404.0,179.0 409.0,180.6 415.0,181.0 420.0,177.0 424.0,173.0 428.0,169.6 433.0,172.0 438.0,173.0 443.0,172.6 447.0,175.0 452.0,182.0 457.0,192.0 462.0,206.0 468.0,218.0 474.0,230.0 480.0,236.0 486.0,241.0 492.0,245.0 495.0,245.6 499.0,238.0 503.0,233.0 508.0,229.0 513.0,221.0 518.0,215.0 523.0,213.6 526.0,208.0 530.0,195.0 534.0,180.0 538.0,166.0 540.4,158.4 543.6,160.0 548.0,155.6 552.0,155.2 556.0,156.4 560.0,160.0 564.0,165.0 568.0,172.4 572.0,180.0 576.0,191.0 580.0,204.0 584.0,216.0 588.0,228.0 590.0,240.0 592.0,256.0 593.6,268.0 596.0,286.0 599.0,308.0 602.0,323.0 605.0,325.0 608.0,324.0 611.0,320.0 615.0,319.6 618.0,321.0 621.0,313.0 625.0,310.0 630.0,309.0 634.0,308.0 639.0,311.0 644.0,312.0 649.0,317.0 655.0,318.0 660.0,323.0 666.0,327.0 672.0,331.0 677.0,334.4 684.0,334.4 689.0,335.0 693.0,332.4 696.0,332.0 699.0,336.0 704.0,343.0 709.0,350.0 713.0,353.0 720.0,352.0 726.0,350.0 731.0,353.6 735.0,352.0 739.0,347.0 743.0,342.0 747.0,338.0 750.0,324.0 753.0,310.0 756.0,296.0 759.0,272.0 762.0,250.0 765.0,232.0 768.0,218.0 770.0,206.0 774.0,186.0 778.0,167.0 782.0,153.0 785.6,139.0 788.0,138.0 791.0,139.0 796.0,141.6 802.0,142.4 808.0,145.0 814.0,144.4 820.0,146.4 824.0,148.6 828.0,147.0 832.0,146.4 836.6,152.4" fill="none" stroke="#ff9d4d" stroke-width="1.15" stroke-linejoin="round" />
<polyline points="0.0,276.0 7.6,291.0 11.0,287.0 18.0,289.6 24.0,280.0 31.0,270.6 37.0,273.0 43.0,272.4 50.0,276.0 58.0,281.0 64.0,286.0 70.0,293.4 78.0,291.0 86.0,286.0 94.0,284.4 104.0,285.6 114.0,283.6 122.0,282.0 130.0,283.0 140.0,286.0 148.0,281.6 160.0,282.4 170.0,278.4 180.0,278.0 190.0,277.4 196.0,275.6 202.0,274.4 209.0,274.0 214.0,269.0 219.0,266.0 224.0,267.6 230.0,270.4 233.0,270.6 238.0,273.0 243.0,273.6 247.0,278.0 252.0,284.6 256.0,284.4 260.0,281.6 264.0,281.0 269.0,274.0 274.0,264.0 279.0,252.0 284.0,240.0 289.0,228.0 294.0,218.0 299.0,212.6 304.0,211.6 310.0,212.0 315.0,214.4 320.0,215.0 326.0,220.0 332.0,227.0 338.0,236.4 343.0,237.0 348.0,237.4 354.0,232.0 360.0,230.6 366.0,229.6 370.0,232.4 376.0,230.6 382.0,230.0 386.0,230.0 392.0,233.0 397.0,236.0 402.0,244.0 408.0,250.0 413.0,255.0 417.0,260.0 421.0,268.0 425.0,276.0 429.0,288.0 433.0,298.0 437.0,306.0 441.0,315.0 445.0,322.0 449.0,326.0 454.0,328.4 459.0,327.6 463.0,323.0 468.0,323.0 474.0,318.6 480.0,319.0 486.0,315.6 494.0,313.6 501.0,320.0 509.0,314.4 514.0,317.0 519.0,314.0 522.0,309.0 525.0,308.0 527.0,318.0 530.0,334.0 534.0,358.0 538.0,380.0 542.0,397.0 547.0,418.0 552.0,436.0 558.0,452.0 564.0,462.0 569.0,466.0 573.0,466.4 580.0,464.4 587.0,461.0 591.0,450.0 595.0,434.0 599.0,418.0 602.6,413.0 606.0,417.0 610.0,425.0 614.0,430.0 619.0,433.0 622.0,444.0 625.0,452.5 628.0,456.5 631.5,460.6 635.2,465.4 641.3,467.5 646.0,466.4 650.0,464.2 655.0,465.6 662.0,462.4 668.0,463.0 676.0,460.4 684.0,460.0 690.0,455.6 695.0,449.0 699.0,436.0 704.0,422.0 709.0,413.0 713.0,407.0 718.0,404.6 725.0,404.4 731.0,401.4 736.0,404.0 742.0,407.6 747.0,408.0 750.0,422.0 755.0,431.0 759.0,448.0 763.0,457.0 766.0,456.6 770.0,465.6 774.0,466.4 778.0,469.0 782.0,465.0 786.0,457.0 789.0,442.0 793.0,434.0 799.0,427.0 805.0,421.0 810.0,417.6 816.0,415.0 821.0,410.0 825.0,406.0 830.0,408.6 836.6,414.0" fill="none" stroke="#ff9d4d" stroke-width="1.15" stroke-linejoin="round" />
<polyline points="0.0,200.0 8.0,211.0 16.0,221.0 26.0,228.0 35.0,231.6 44.0,231.0 52.0,232.0 60.0,235.0 68.0,240.0 74.0,243.6 82.0,242.0 90.0,238.4 96.0,237.6 104.0,240.0 112.0,245.0 120.0,248.4 130.0,249.6 140.0,250.4 148.0,249.6 156.0,248.0 166.0,247.4 176.0,249.0 188.0,248.6 196.0,248.0 202.0,247.0 208.0,245.0 214.0,241.0 220.0,236.0 226.0,231.0 232.0,227.0 238.0,224.0 244.0,220.0 250.0,213.0 256.0,205.0 262.0,196.0 267.0,189.0 272.0,181.0 278.0,173.0 284.0,166.0 290.0,160.4 296.0,157.6 302.0,156.0 308.0,156.0 314.0,157.0 320.0,157.6 323.0,158.0 328.0,161.0 334.0,167.0 340.0,174.0 346.0,181.0 352.0,187.0 358.0,193.0 364.0,198.0 370.0,201.6 376.0,204.0 382.0,205.0 386.0,205.0 392.0,207.0 398.0,210.0 404.0,213.6 410.0,217.0 416.0,219.0 422.0,223.0 428.0,230.0 434.0,237.0 440.0,243.0 448.0,252.0 456.0,261.0 464.0,269.0 470.0,273.0 476.0,276.4 486.0,279.0 494.0,280.0 500.0,278.0 508.0,272.0 516.0,266.0 521.0,261.6 525.0,260.0 529.0,262.4 535.0,270.0 540.0,278.0 546.0,288.0 552.0,296.0 560.0,308.0 568.0,319.0 576.0,329.0 584.0,339.0 590.0,349.0 596.0,359.0 602.0,368.0 609.0,372.0 616.0,377.0 624.0,382.0 632.0,386.0 640.0,389.0 648.0,391.0 656.0,392.0 664.0,395.0 672.0,397.0 680.0,398.0 686.0,397.6 692.0,394.0 696.0,390.0 702.0,383.0 708.0,380.4 714.0,379.0 722.0,377.6 730.0,377.0 738.0,376.0 746.0,372.4 752.0,368.4 756.0,364.0 760.0,357.0 766.0,344.0 772.0,330.0 778.0,316.0 784.0,302.0 789.0,291.0 792.0,287.0 796.0,284.0 804.0,281.0 812.0,280.0 818.0,279.0 824.0,277.0 829.0,277.0 833.0,279.0 836.6,283.0" fill="none" stroke="#33cccc" stroke-width="1.7" stroke-linejoin="round" />
<line x1="264.4" y1="103.6" x2="844" y2="144.4" stroke="#7b97ec" stroke-width="1"/>
<line x1="712" y1="415.6" x2="844" y2="336.4" stroke="#ff5050" stroke-width="1.05"/>
<polygon points="261.8,94.6 267.2,94.6 264.5,99.8" fill="#008000"/>
<polygon points="783.1,131.2 788.5,131.2 785.8,136.2" fill="#008000"/>
<polygon points="709.3,424 714.7,424 712,419" fill="#ff1a1a"/>
<polygon points="810.9,362.8 816.3,362.8 813.6,357.8" fill="#ff1a1a"/>
<path d="M937.5,152.5 L943.5,146.5 L968.7,146.5 Q970.5,146.5 970.5,148.3 L970.5,156.7 Q970.5,158.5 968.7,158.5 L943.5,158.5 Z" fill="#fb8117"/><text x="947.6" y="155.8" class="bd" fill="#3a2a1a">7,873</text>
<path d="M937.5,283.1 L943.5,277.1 L968.7,277.1 Q970.5,277.1 970.5,278.90000000000003 L970.5,287.3 Q970.5,289.1 968.7,289.1 L943.5,289.1 Z" fill="#35cbcb"/><text x="947.6" y="286.4" class="bd" fill="#12393b">7,045</text>
<path d="M937.5,321.7 L943.5,315.7 L980.2,315.7 Q982.0,315.7 982.0,317.5 L982.0,325.9 Q982.0,327.7 980.2,327.7 L943.5,327.7 Z" fill="#5f5aa8"/><text x="947.6" y="325.0" class="bd" fill="#ffffff">6,801.99</text>
<path d="M937.5,414 L943.5,408.0 L968.7,408.0 Q970.5,408.0 970.5,409.8 L970.5,418.2 Q970.5,420.0 968.7,420.0 L943.5,420.0 Z" fill="#fb8117"/><text x="947.6" y="417.3" class="bd" fill="#3a2a1a">6,217</text>
<text x="5" y="481.4" class="lgb">VWAP</text><text x="30" y="481.4" class="lg">20 1 2 3</text>
<text x="93" y="481.4" class="lgb">AUTO TREND</text><text x="144.6" y="481.4" class="lg">4 2 2</text>
<g transform="translate(66.3,478.6)"><rect x="-1.05" y="-4.2" width="2.1" height="8.4" fill="#9a9a9a" transform="rotate(0)"/><rect x="-1.05" y="-4.2" width="2.1" height="8.4" fill="#9a9a9a" transform="rotate(45)"/><rect x="-1.05" y="-4.2" width="2.1" height="8.4" fill="#9a9a9a" transform="rotate(90)"/><rect x="-1.05" y="-4.2" width="2.1" height="8.4" fill="#9a9a9a" transform="rotate(135)"/><circle r="2.9000000000000004" fill="#9a9a9a"/><circle r="1.5" fill="#ffffff"/></g>
<path d="M76.6,475.70000000000005 L82.4,481.5 M82.4,475.70000000000005 L76.6,481.5" stroke="#9a9a9a" stroke-width="1.9" fill="none"/>
<g transform="translate(170.3,478.6)"><rect x="-1.05" y="-4.2" width="2.1" height="8.4" fill="#9a9a9a" transform="rotate(0)"/><rect x="-1.05" y="-4.2" width="2.1" height="8.4" fill="#9a9a9a" transform="rotate(45)"/><rect x="-1.05" y="-4.2" width="2.1" height="8.4" fill="#9a9a9a" transform="rotate(90)"/><rect x="-1.05" y="-4.2" width="2.1" height="8.4" fill="#9a9a9a" transform="rotate(135)"/><circle r="2.9000000000000004" fill="#9a9a9a"/><circle r="1.5" fill="#ffffff"/></g>
<path d="M180.1,475.70000000000005 L185.9,481.5 M185.9,475.70000000000005 L180.1,481.5" stroke="#9a9a9a" stroke-width="1.9" fill="none"/>
<rect x="0" y="522" width="943" height="1" fill="#dcdcdc"/><rect x="0" y="523" width="943" height="1" fill="#cbcbcb"/>
<rect x="0" y="541.9" width="943" height="1" fill="#d2d2d2"/>
<rect x="0" y="607.6" width="943" height="1" fill="#d2d2d2"/>
<rect x="0" y="624.85" width="944.1" height="1.1" fill="#8c8c8c"/>
<polygon points="225.0,542.4 225.7,541.6 229.6,541.2 230.3,542.4" fill="#b4b4b4"/>
<polygon points="236.6,542.4 237.4,541.0 237.7,542.4" fill="#b4b4b4"/>
<polygon points="247.2,542.4 249.1,536.0 252.9,530.6 256.8,535.0 260.7,542.4" fill="#b4b4b4"/>
<polygon points="260.7,542.4 264.6,534.0 267.3,542.4" fill="#b4b4b4"/>
<polygon points="750.9,542.4 751.1,541.4 751.9,542.4" fill="#b4b4b4"/>
<polygon points="756.0,542.4 758.8,532.6 762.7,530.4 764.9,542.4" fill="#b4b4b4"/>
<polygon points="769.9,542.4 770.5,540.6 771.9,542.4" fill="#b4b4b4"/>
<polygon points="776.6,542.4 778.3,540.0 779.6,542.4" fill="#b4b4b4"/>
<polygon points="427.0,608.1 428.1,610.4 432.0,608.6 432.2,608.1" fill="#b4b4b4"/>
<polygon points="529.1,608.1 529.2,608.6 533.1,617.4 537.0,610.6 540.9,617.4 542.4,608.1" fill="#b4b4b4"/>
<polyline points="0.0,586.0 3.9,590.6 7.8,593.4 11.7,584.0 15.6,576.0 19.5,580.6 23.3,575.0 27.2,570.0 31.1,568.6 35.0,570.6 38.9,568.4 42.8,577.6 46.7,579.4 50.6,589.0 54.5,590.6 58.4,588.4 62.3,585.4 66.2,592.6 70.0,594.0 73.9,577.6 77.8,576.4 81.7,578.0 85.6,570.0 89.5,565.4 93.4,565.0 97.3,580.6 101.2,581.6 105.1,582.0 109.0,579.4 112.9,584.0 116.7,584.0 120.6,585.6 124.5,570.0 128.4,579.0 132.3,582.6 136.2,590.4 140.1,589.0 144.0,582.4 147.9,580.4 151.8,567.6 155.7,569.0 159.6,562.4 163.4,562.4 167.3,568.0 171.2,573.0 175.1,577.0 179.0,580.4 182.9,577.4 186.8,576.4 190.7,577.6 194.6,570.4 198.5,574.6 202.4,569.0 206.2,566.4 210.1,561.6 214.0,555.4 217.9,555.0 221.8,546.0 225.7,541.6 229.6,541.2 233.5,548.0 237.4,541.0 241.3,557.0 245.2,549.4 249.1,536.0 252.9,530.6 256.8,535.0 260.7,542.4 264.6,534.0 268.5,546.0 272.4,551.4 276.3,550.0 280.2,561.0 284.1,564.6 288.0,568.0 291.9,576.0 295.8,573.6 299.6,578.6 303.5,584.4 307.4,581.4 311.3,586.6 315.2,585.0 319.1,582.4 323.0,583.6 326.9,590.6 330.8,584.4 334.7,594.6 338.6,597.6 342.5,593.6 346.3,591.6 350.2,578.0 354.1,571.4 358.0,586.4 361.9,584.0 365.8,588.0 369.7,590.4 373.6,580.6 377.5,577.4 381.4,574.0 385.3,569.6 389.2,589.6 393.0,587.4 396.9,584.0 400.8,596.6 404.7,598.0 408.6,587.4 412.5,589.6 416.4,588.6 420.3,600.0 424.2,602.0 428.1,610.4 432.0,608.6 435.8,600.4 439.7,603.0 443.6,606.4 447.5,599.0 451.4,589.4 455.3,594.4 459.2,590.0 463.1,585.4 467.0,586.0 470.9,590.6 474.8,585.4 478.7,573.4 482.5,574.6 486.4,573.4 490.3,567.4 494.2,566.4 498.1,560.0 502.0,560.0 505.9,569.4 509.8,566.6 513.7,552.0 517.6,556.4 521.5,568.0 525.4,593.0 529.2,608.6 533.1,617.4 537.0,610.6 540.9,617.4 544.8,593.4 548.7,600.0 552.6,594.0 556.5,594.6 560.4,592.6 564.3,593.0 568.2,587.0 572.1,578.6 575.9,581.6 579.8,584.4 583.7,577.6 587.6,585.4 591.5,583.0 595.4,581.0 599.3,580.2 603.2,588.0 607.1,595.4 611.0,602.6 614.9,597.0 618.7,598.4 622.6,606.6 626.5,599.4 630.4,589.0 634.3,593.0 638.2,581.0 642.1,578.0 646.0,575.6 649.9,571.6 653.8,564.4 657.7,569.0 661.6,575.6 665.4,573.0 669.3,571.4 673.2,572.4 677.1,571.6 681.0,577.4 684.9,581.4 688.8,575.6 692.7,573.6 696.6,577.0 700.5,580.6 704.4,576.4 708.3,583.6 712.1,586.6 716.0,578.6 719.9,570.0 723.8,566.0 727.7,572.0 731.6,569.0 735.5,561.6 739.4,561.4 743.3,557.6 747.2,563.0 751.1,541.4 755.0,546.0 758.8,532.6 762.7,530.4 766.6,552.0 770.5,540.6 774.4,545.6 778.3,540.0 782.2,547.0 786.1,544.6 790.0,575.0 793.9,584.0 797.8,585.0 801.6,584.4 805.5,585.4 809.4,586.4 813.3,584.4 817.2,581.6 821.1,573.6 825.0,575.0 828.9,577.0 832.8,580.0 836.7,578.0" fill="none" stroke="#2a2a2a" stroke-width="1.1" stroke-linejoin="round" />
<rect x="944" y="541.9" width="2" height="1" fill="#8c8c8c"/>
<text x="947.9" y="545.1" class="ax" style="fill:#7a7a7a">70.0</text>
<rect x="944" y="558.4" width="2" height="1" fill="#8c8c8c"/>
<text x="947.9" y="561.6" class="ax" style="fill:#7a7a7a">60.0</text>
<rect x="944" y="590.4" width="2" height="1" fill="#8c8c8c"/>
<text x="947.9" y="593.6" class="ax" style="fill:#7a7a7a">40.0</text>
<rect x="944" y="607.5" width="2" height="1" fill="#8c8c8c"/>
<text x="947.9" y="610.7" class="ax" style="fill:#7a7a7a">30.0</text>
<text x="947.9" y="545.1" class="ax" style="fill:#333">70</text>
<text x="947.9" y="610.7" class="ax" style="fill:#333">30</text>
<path d="M937.7,578 L943.5,572.3 L964.5,572.3 Q966,572.3 966,573.8 L966,582.2 Q966,583.7 964.5,583.7 L943.5,583.7 Z" fill="#000"/><text x="947.6" y="581.1" class="bd" fill="#fff">48.2</text>
<rect x="3" y="533" width="54" height="13" fill="#ffffff"/>
<text x="5" y="542.6" class="lgb">RSI</text><text x="19.6" y="542.6" class="lg">14</text>
<g transform="translate(36,539.8)"><rect x="-1.05" y="-4.2" width="2.1" height="8.4" fill="#9a9a9a" transform="rotate(0)"/><rect x="-1.05" y="-4.2" width="2.1" height="8.4" fill="#9a9a9a" transform="rotate(45)"/><rect x="-1.05" y="-4.2" width="2.1" height="8.4" fill="#9a9a9a" transform="rotate(90)"/><rect x="-1.05" y="-4.2" width="2.1" height="8.4" fill="#9a9a9a" transform="rotate(135)"/><circle r="2.9000000000000004" fill="#9a9a9a"/><circle r="1.5" fill="#ffffff"/></g>
<path d="M46.1,536.9 L51.9,542.6999999999999 M51.9,536.9 L46.1,542.6999999999999" stroke="#9a9a9a" stroke-width="1.9" fill="none"/>
<path d="M65.4,544.8 L65.4,536.2 M61.6,540 L65.4,536.2 L69.2,540" stroke="#666" stroke-width="0.9" fill="none"/>
<rect x="16.9" y="626" width="1" height="3" fill="#8c8c8c"/>
<text x="17.4" y="638.3" class="mo" text-anchor="middle">Nov</text>
<rect x="114.7" y="626" width="1" height="3" fill="#8c8c8c"/>
<text x="115.2" y="638.3" class="mo" text-anchor="middle">Dec</text>
<rect x="215.5" y="626" width="1" height="3" fill="#8c8c8c"/>
<rect x="320.9" y="626" width="1" height="3" fill="#8c8c8c"/>
<text x="321.4" y="638.3" class="mo" text-anchor="middle">Feb</text>
<rect x="413.9" y="626" width="1" height="3" fill="#8c8c8c"/>
<text x="414.4" y="638.3" class="mo" text-anchor="middle">Mar</text>
<rect x="515.1" y="626" width="1" height="3" fill="#8c8c8c"/>
<text x="515.6" y="638.3" class="mo" text-anchor="middle">Apr</text>
<rect x="611.9" y="626" width="1" height="3" fill="#8c8c8c"/>
<text x="612.4" y="638.3" class="mo" text-anchor="middle">May</text>
<rect x="713.9" y="626" width="1" height="3" fill="#8c8c8c"/>
<text x="714.4" y="638.3" class="mo" text-anchor="middle">Jun</text>
<rect x="815.0" y="626" width="1" height="3" fill="#8c8c8c"/>
<text x="815.5" y="638.3" class="mo" text-anchor="middle">Jul</text>
<rect x="932.1" y="626" width="1" height="3" fill="#8c8c8c"/>
<text x="932.6" y="638.3" class="mo" text-anchor="middle">Aug</text>
<line x1="216" y1="629" x2="216" y2="640" stroke="#ccc" stroke-width="1" stroke-dasharray="1,1.5"/>
<text x="216" y="648" class="mo" text-anchor="middle">2025</text>
<path d="M238.6,44.6 V37.3 Q238.6,36.5 239.4,36.5 H241.7 L243,37.9 H246.1 Q246.9,37.9 246.9,38.7 V40" fill="none" stroke="#555" stroke-width="0.9"/>
<polygon points="241.2,40.1 249,40.1 246.8,44.8 239,44.8" fill="#2a2a2a"/>
<path d="M265,35.1 H272.4 L274.1,36.8 V45 Q274.1,46 273.1,46 H265 Q264,46 264,45 V36.1 Q264,35.1 265,35.1 Z" fill="#222"/>
<rect x="267" y="36.1" width="4.4" height="2.8" fill="#fff"/>
<rect x="269.7" y="37" width="1.6" height="0.9" fill="#444"/>
<rect x="265.5" y="40.9" width="7.1" height="3.8" fill="#fff"/>
</svg>
</body></html>
